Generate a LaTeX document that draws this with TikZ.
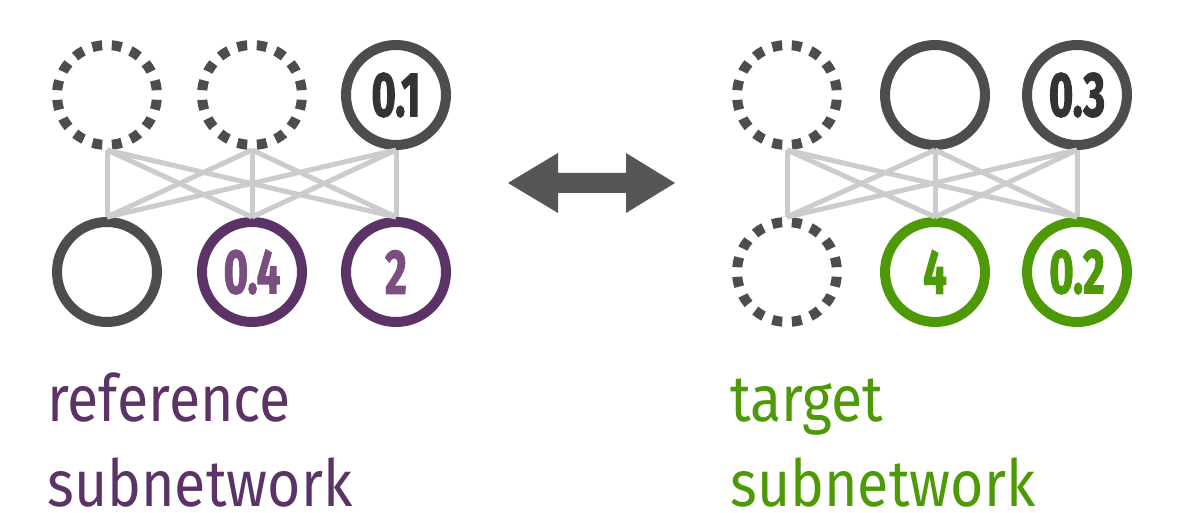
\documentclass[tikz,border=0pt]{standalone}
\usepackage{fontspec}
\setmainfont{Fira Sans}
\newfontfamily\numfont[FakeStretch=0.66,FakeBold=1.6]{Fira Sans}
\newfontfamily\labelfont[FakeStretch=0.88]{Fira Sans}
\usepackage{tikz}
\definecolor{netgray}{HTML}{4D4D4D}
\definecolor{numgray}{HTML}{333333}
\definecolor{edgegray}{HTML}{CCCCCC}
\definecolor{refpurple}{HTML}{5C3366}
\definecolor{refnum}{HTML}{7A4F80}
\definecolor{tgtgreen}{HTML}{4E9A06}
\tikzset{
  neuron/.style={circle, draw=netgray, fill=white, line width=0.2cm,
    minimum size=2cm, inner sep=0pt, text=numgray,
    font=\numfont\bfseries\fontsize{36}{36}\selectfont},
  pruned/.style={neuron, dash pattern=on 0.2cm off 0.1927cm, dash phase=0.2964cm},
  refneuron/.style={neuron, draw=refpurple, text=refnum},
  tgtneuron/.style={neuron, draw=tgtgreen, text=tgtgreen},
  edge/.style={draw=edgegray, line width=0.1cm},
  netlabel/.style={anchor=base west, inner sep=0pt, text depth=0pt,
    font=\labelfont\fontsize{37}{37}\selectfont}
}

\begin{document}
\begin{tikzpicture}[x=0.02cm, y=-0.02cm]
\useasboundingbox (0,0) rectangle (1188,513);

% reference subnetwork
\node[pruned] (rt1) at (107,95) {};
\node[pruned] (rt2) at (252,95) {};
\node[neuron] (rt3) at (396,95) {0.1};
\node[neuron] (rb1) at (107,272) {};
\node[refneuron] (rb2) at (252,272) {0.4};
\node[refneuron] (rb3) at (396,272) {2};
\foreach \t in {1,2,3}
  \foreach \b in {1,2,3}
    \draw[edge] (rt\t.south) -- (rb\b.north);

% target subnetwork
\node[pruned] (tt1) at (787,95) {};
\node[neuron] (tt2) at (935,95) {};
\node[neuron] (tt3) at (1077,95) {0.3};
\node[pruned] (tb1) at (787,272) {};
\node[tgtneuron] (tb2) at (935,272) {4};
\node[tgtneuron] (tb3) at (1077,272) {0.2};
\foreach \t in {1,2,3}
  \foreach \b in {1,2,3}
    \draw[edge] (tt\t.south) -- (tb\b.north);

% double arrow
\fill[netgray!95] (508,183) -- (558,153) -- (558,173) -- (626,173) -- (626,153)
  -- (675,183) -- (626,213) -- (626,193) -- (558,193) -- (558,213) -- cycle;

% labels
\node[netlabel, text=refpurple] (reflbl) at (47,422) {reference};
\node[netlabel, text=refpurple] (refsub) at (47,507) {subnetwork};
\node[netlabel, text=tgtgreen] (tgtlbl) at (730,422) {target};
\node[netlabel, text=tgtgreen] (tgtsub) at (730,507) {subnetwork};

\end{tikzpicture}
\end{document}
